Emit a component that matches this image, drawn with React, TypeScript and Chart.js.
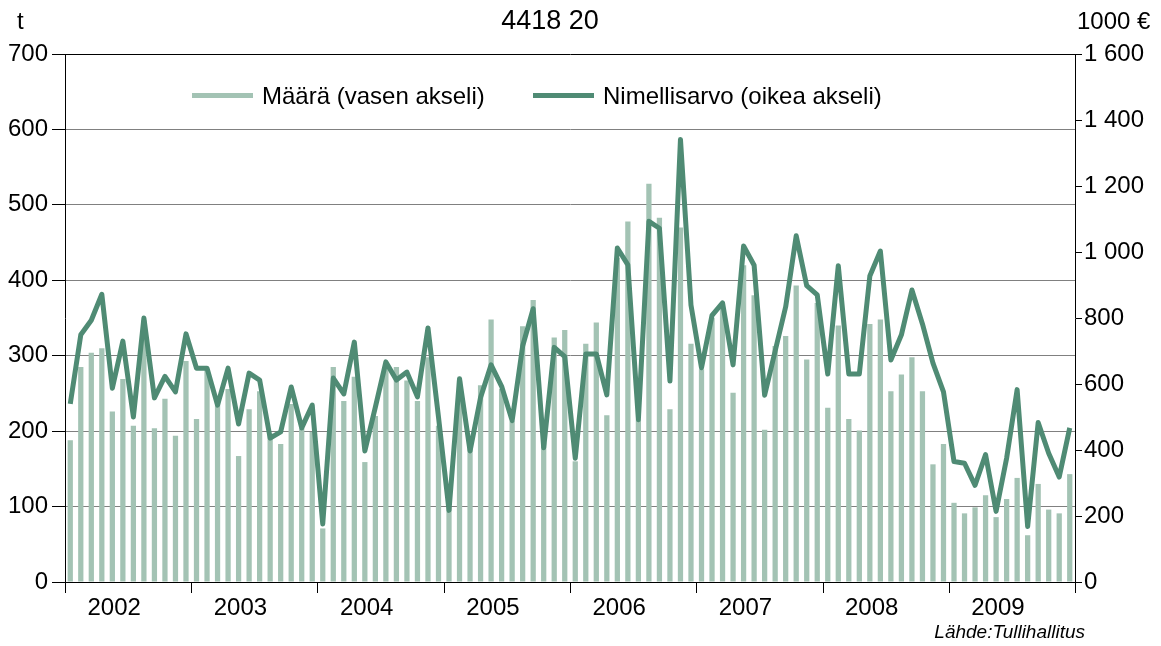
import React, { useEffect, useRef } from "react";
import { Chart, registerables } from "chart.js";

Chart.register(...registerables);

// ---- data ----
const years = ["2002", "2003", "2004", "2005", "2006", "2007", "2008", "2009"];
const monthNames = ["01", "02", "03", "04", "05", "06", "07", "08", "09", "10", "11", "12"];

// Määrä (t), left axis
const qty2002 = [188, 285, 304, 310, 226, 269, 207, 347, 204, 243, 194, 293];
const qty2003 = [216, 281, 242, 256, 167, 229, 253, 197, 183, 236, 204, 199];
const qty2004 = [71, 285, 240, 272, 159, 220, 285, 285, 267, 240, 298, 207];
const qty2005 = [99, 267, 180, 261, 348, 256, 213, 339, 374, 185, 324, 334];
const qty2006 = [160, 316, 344, 221, 430, 478, 215, 528, 483, 229, 470, 316];
const qty2007 = [282, 350, 365, 251, 420, 380, 202, 313, 326, 393, 295, 370];
const qty2008 = [231, 340, 216, 201, 342, 348, 253, 275, 298, 253, 156, 183];
const qty2009 = [105, 91, 99, 115, 86, 110, 138, 62, 130, 96, 91, 143];

// Nimellisarvo (1000 €), right axis
const val2002 = [540, 749, 793, 872, 587, 730, 500, 800, 558, 623, 576, 752];
const val2003 = [648, 648, 536, 648, 479, 633, 612, 436, 455, 591, 467, 536];
const val2004 = [176, 618, 570, 727, 397, 530, 667, 612, 636, 561, 770, 500];
const val2005 = [217, 616, 397, 559, 658, 593, 489, 715, 828, 407, 711, 683];
const val2006 = [375, 691, 691, 567, 1012, 961, 492, 1093, 1072, 609, 1341, 839];
const val2007 = [649, 808, 846, 658, 1018, 960, 566, 700, 834, 1049, 898, 870];
const val2008 = [630, 958, 630, 630, 927, 1003, 673, 749, 885, 782, 663, 576];
const val2009 = [365, 360, 293, 386, 214, 375, 583, 168, 483, 390, 318, 467];

const leftTicks = [0, 100, 200, 300, 400, 500, 600, 700];
const rightTicks = [0, 200, 400, 600, 800, 1000, 1200, 1400, 1600];

const titleText = "4418 20";
const leftUnit = "t";
const rightUnit = "1000 €";
const legendQty = "Määrä (vasen akseli)";
const legendVal = "Nimellisarvo (oikea akseli)";
const sourceText = "Lähde:Tullihallitus";

const quantities = [
  ...qty2002, ...qty2003, ...qty2004, ...qty2005,
  ...qty2006, ...qty2007, ...qty2008, ...qty2009,
];
const values = [
  ...val2002, ...val2003, ...val2004, ...val2005,
  ...val2006, ...val2007, ...val2008, ...val2009,
];
const labels: string[] = [];
years.forEach((y) => monthNames.forEach((m) => labels.push(`${y}-${m}`)));

const BAR_COLOR = "#a3c3b4";
const LINE_COLOR = "#4f8b74";
const GRID_COLOR = "#808080";
const FONT = "'Liberation Sans', Arial, sans-serif";

const fmtThousands = (v: number) => {
  const s = String(Math.round(v));
  return s.length > 3 ? s.slice(0, s.length - 3) + " " + s.slice(s.length - 3) : s;
};

const decorPlugin = {
  id: "decor",
  afterDraw(chart: any) {
    const { ctx, chartArea, scales } = chart;
    const xs = scales.x;
    const half = (xs.getPixelForValue(1) - xs.getPixelForValue(0)) / 2;
    ctx.save();
    // year ticks & labels
    ctx.strokeStyle = "#000";
    ctx.lineWidth = 1;
    ctx.fillStyle = "#000";
    ctx.font = `24px ${FONT}`;
    ctx.textAlign = "center";
    ctx.textBaseline = "middle";
    for (let i = 0; i <= years.length; i++) {
      const idx = Math.min(i * 12, labels.length - 1);
      const x = i * 12 < labels.length
        ? xs.getPixelForValue(idx) - half
        : xs.getPixelForValue(idx) + half;
      const px = Math.round(x) + 0.5;
      ctx.beginPath();
      ctx.moveTo(px, chartArea.bottom);
      ctx.lineTo(px, chartArea.bottom + 11);
      ctx.stroke();
    }
    years.forEach((y, i) => {
      const x0 = xs.getPixelForValue(i * 12) - half;
      const x1 = xs.getPixelForValue(i * 12 + 11) + half;
      ctx.fillText(y, (x0 + x1) / 2 - 14, chartArea.bottom + 26);
    });
    // title & units
    ctx.font = `27px ${FONT}`;
    ctx.fillText(titleText, 550, 22);
    ctx.font = `24px ${FONT}`;
    ctx.textAlign = "left";
    ctx.fillText(leftUnit, 17, 22);
    ctx.fillText(rightUnit, 1077, 22);
    // legend
    ctx.fillStyle = BAR_COLOR;
    ctx.fillRect(192, 93, 61, 5);
    ctx.fillStyle = LINE_COLOR;
    ctx.fillRect(533, 93, 61, 5);
    ctx.fillStyle = "#000";
    ctx.font = `24px ${FONT}`;
    ctx.fillText(legendQty, 262, 97);
    ctx.fillText(legendVal, 603, 97);
    // source
    ctx.font = `italic 19px ${FONT}`;
    ctx.textAlign = "right";
    ctx.fillText(sourceText, 1085, 633);
    ctx.restore();
  },
};

export default function App() {
  const ref = useRef<HTMLCanvasElement>(null);
  useEffect(() => {
    if (!ref.current) return;
    const chart = new Chart(ref.current, {
      type: "bar",
      data: {
        labels,
        datasets: [
          {
            type: "line",
            label: legendVal,
            data: values,
            yAxisID: "y1",
            borderColor: LINE_COLOR,
            backgroundColor: LINE_COLOR,
            borderWidth: 5,
            pointRadius: 0,
            tension: 0,
            borderJoinStyle: "round",
            order: 1,
          } as any,
          {
            type: "bar",
            label: legendQty,
            data: quantities,
            yAxisID: "y",
            backgroundColor: BAR_COLOR,
            barPercentage: 0.5,
            categoryPercentage: 1,
            order: 2,
          },
        ],
      },
      options: {
        responsive: false,
        animation: false,
        devicePixelRatio: 1,
        layout: { padding: { top: 54, left: 0, right: 0, bottom: 0 } },
        plugins: {
          legend: { display: false },
          title: { display: false },
          tooltip: { enabled: false },
        },
        scales: {
          x: {
            offset: true,
            grid: { display: false, drawTicks: false },
            ticks: { display: false },
            border: { display: true, color: "#000", width: 1 },
            afterFit: (s: any) => {
              s.height = 64;
            },
          },
          y: {
            position: "left",
            min: 0,
            max: 700,
            afterBuildTicks: (s: any) => {
              s.ticks = leftTicks.map((v) => ({ value: v }));
            },
            ticks: {
              color: "#000",
              font: { size: 24, family: FONT },
              padding: 4,
            },
            grid: {
              color: (c: any) => (c.tick && c.tick.value === 700 ? "#000" : GRID_COLOR),
              tickColor: "#000",
              tickLength: 13,
              drawTicks: true,
            },
            border: { color: "#000", width: 1 },
            afterFit: (s: any) => {
              s.width = 65;
            },
          },
          y1: {
            position: "right",
            min: 0,
            max: 1600,
            afterBuildTicks: (s: any) => {
              s.ticks = rightTicks.map((v) => ({ value: v }));
            },
            ticks: {
              color: "#000",
              font: { size: 24, family: FONT },
              padding: 2,
              callback: (v: any) => fmtThousands(Number(v)),
            },
            grid: {
              drawOnChartArea: false,
              tickColor: "#000",
              tickLength: 7,
              drawTicks: true,
            },
            border: { color: "#000", width: 1 },
            afterFit: (s: any) => {
              s.width = 86;
            },
          },
        },
      },
      plugins: [decorPlugin],
    });
    return () => chart.destroy();
  }, []);
  return (
    <div style={{ position: "absolute", left: 0, top: 0, width: 1161, height: 646, background: "#fff" }}>
      <canvas ref={ref} width={1161} height={646} />
    </div>
  );
}
